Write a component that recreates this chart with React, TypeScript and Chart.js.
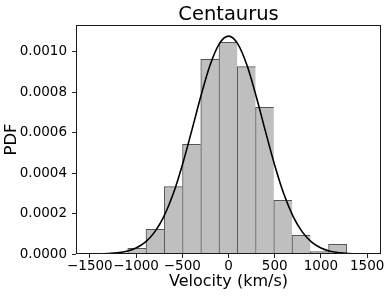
import { useEffect, useRef } from 'react';
import { Chart, registerables } from 'chart.js';

Chart.register(...registerables);

// Histogram bins (centres in km/s) and normalised densities
const binCenters = [-1386.25, -1188.75, -991.25, -793.75, -596.25, -398.75, -201.25, -3.75, 193.75, 391.25, 588.75, 786.25, 983.75, 1181.25];
const binDensity = [0.000005, 0.000005, 0.000028, 0.000122, 0.000333, 0.000542, 0.000962, 0.001046, 0.000926, 0.000725, 0.000265, 0.000092, 0.000012, 0.000048];

// Fitted curve
const fitVelocity = [-1500, -1400, -1300, -1200, -1100, -1000, -900, -800, -700, -600, -500, -400, -300, -200, -100, 0, 100, 200, 300, 400, 500, 600, 700, 800, 900, 1000, 1100, 1200, 1300, 1400, 1500];
const fitDensity = [0.0000003, 0.0000009, 0.0000025, 0.0000061, 0.0000139, 0.0000296, 0.0000586, 0.000108, 0.000185, 0.000295, 0.000439, 0.000606, 0.000779, 0.000933, 0.001039, 0.001077, 0.001039, 0.000933, 0.000779, 0.000606, 0.000439, 0.000295, 0.000185, 0.000108, 0.0000586, 0.0000296, 0.0000139, 0.0000061, 0.0000025, 0.0000009, 0.0000003];

const xTickValues = [-1500, -1000, -500, 0, 500, 1000, 1500];
const xTickLabels = ['\u22121500', '\u22121000', '\u2212500', '0', '500', '1000', '1500'];
const yTickValues = [0, 0.0002, 0.0004, 0.0006, 0.0008, 0.001];
const yTickLabels = ['0.0000', '0.0002', '0.0004', '0.0006', '0.0008', '0.0010'];

const titleText = 'Centaurus';
const xAxisLabel = 'Velocity (km/s)';
const yAxisLabel = 'PDF';

const FONT = '"DejaVu Sans", "Liberation Sans", sans-serif';

const framePlugin = {
  id: 'frame',
  afterDraw(chart: any) {
    const { ctx, chartArea: a } = chart;
    ctx.save();
    ctx.strokeStyle = '#1a1a1a';
    ctx.lineWidth = 1;
    const l = Math.round(a.left) + 0.5;
    const t = Math.round(a.top) + 0.5;
    const r = Math.round(a.right) - 0.5;
    const b = Math.round(a.bottom) - 0.5;
    ctx.strokeRect(l, t, r - l, b - t);
    ctx.fillStyle = '#000';
    ctx.font = `19.5px ${FONT}`;
    ctx.textAlign = 'center';
    ctx.textBaseline = 'alphabetic';
    ctx.fillText(titleText, (a.left + a.right) / 2, 20);
    ctx.restore();
  },
};

export default function App() {
  const canvasRef = useRef<HTMLCanvasElement | null>(null);

  useEffect(() => {
    document.body.style.margin = '0';
    const canvas = canvasRef.current;
    if (!canvas) return;
    const last = binCenters.length - 1;
    const chart = new Chart(canvas, {
      type: 'bar',
      data: {
        datasets: [
          {
            type: 'line',
            data: fitVelocity.map((x, i) => ({ x, y: fitDensity[i] })),
            borderColor: '#000',
            borderWidth: 1.6,
            pointRadius: 0,
            cubicInterpolationMode: 'monotone',
            fill: false,
            order: 0,
          } as any,
          {
            type: 'bar',
            data: binCenters.map((x, i) => ({ x, y: binDensity[i] })),
            backgroundColor: '#bfbfbf',
            borderColor: '#555555',
            borderWidth: (c: any) => ({ top: 1, left: 1, bottom: 0, right: c.dataIndex === last ? 1 : 0 }),
            borderSkipped: false,
            barPercentage: 1,
            categoryPercentage: 1,
            order: 1,
          } as any,
        ],
      },
      options: {
        animation: false,
        responsive: false,
        maintainAspectRatio: false,
        layout: { padding: { left: 0, right: 10, top: 25, bottom: 0 } },
        plugins: { legend: { display: false }, tooltip: { enabled: false }, title: { display: false } },
        scales: {
          x: {
            type: 'linear',
            min: -1650,
            max: 1650,
            offset: false,
            grid: { display: true, offset: false, drawOnChartArea: false, drawTicks: true, tickLength: 4, color: '#222', tickColor: '#222' },
            border: { display: false },
            ticks: {
              color: '#000',
              font: { family: FONT, size: 13.5 },
              padding: 0,
              maxRotation: 0,
              autoSkip: false,
              callback: (v: any) => {
                const i = xTickValues.indexOf(Number(v));
                return i >= 0 ? xTickLabels[i] : '';
              },
            },
            afterBuildTicks: (s: any) => {
              s.ticks = xTickValues.map((v) => ({ value: v }));
            },
            afterFit: (s: any) => {
              s.height = 43;
            },
            title: { display: true, text: xAxisLabel, color: '#000', font: { family: FONT, size: 16 }, padding: { top: 0, bottom: 6 } },
          },
          y: {
            type: 'linear',
            min: 0,
            max: 0.001132,
            grid: { display: true, drawOnChartArea: false, drawTicks: true, tickLength: 4, color: '#222', tickColor: '#222' },
            border: { display: false },
            ticks: {
              color: '#000',
              font: { family: FONT, size: 13.5 },
              padding: 5,
              autoSkip: false,
              callback: (v: any) => {
                const i = yTickValues.findIndex((t) => Math.abs(t - Number(v)) < 1e-9);
                return i >= 0 ? yTickLabels[i] : '';
              },
            },
            afterBuildTicks: (s: any) => {
              s.ticks = yTickValues.map((v) => ({ value: v }));
            },
            afterFit: (s: any) => {
              s.width = 76;
            },
            title: { display: true, text: yAxisLabel, color: '#000', font: { family: FONT, size: 16.5 }, padding: { top: 2, bottom: 0 } },
          },
        },
      },
      plugins: [framePlugin],
    });
    return () => chart.destroy();
  }, []);

  return (
    <div style={{ width: 391, height: 297 }}>
      <canvas ref={canvasRef} width={391} height={297} style={{ display: 'block', width: 391, height: 297 }} />
    </div>
  );
}
